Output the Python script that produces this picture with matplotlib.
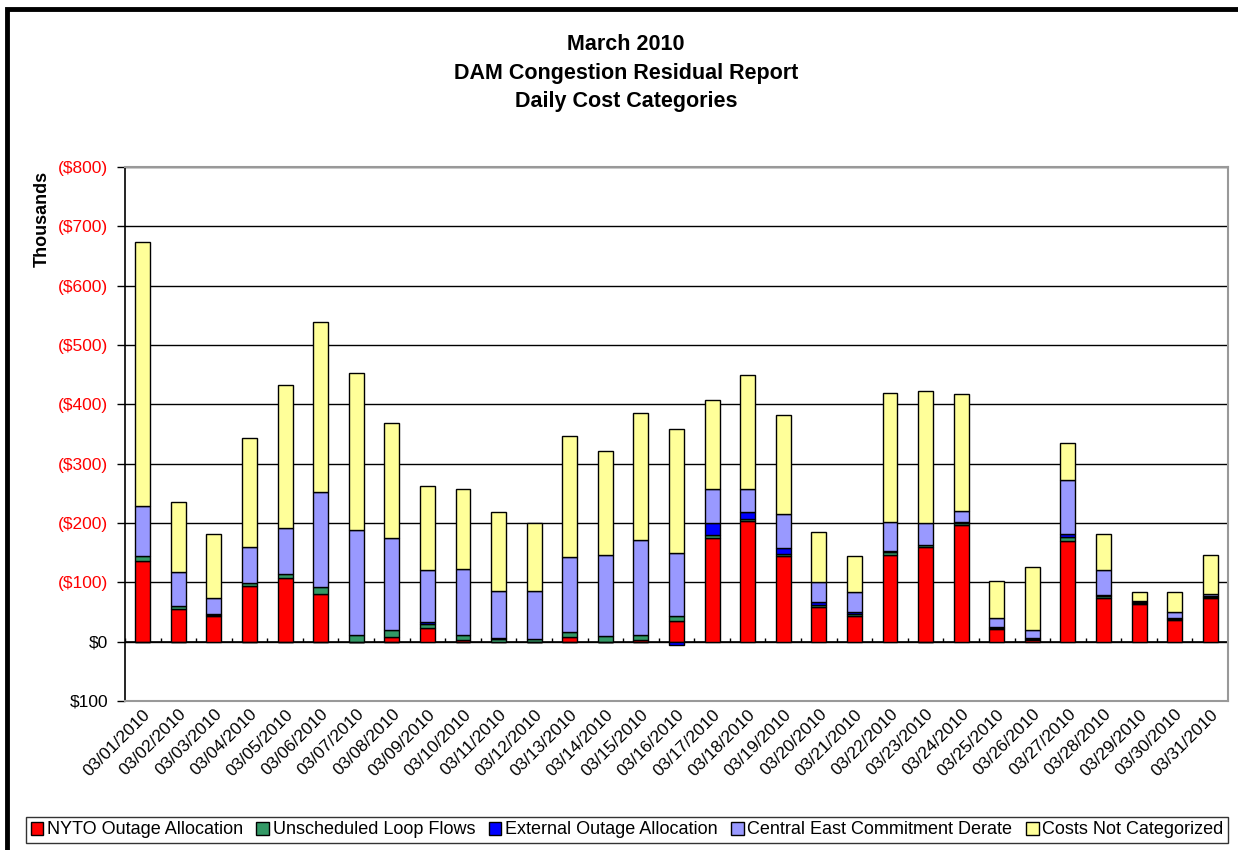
import matplotlib
matplotlib.use("Agg")
import matplotlib.pyplot as plt
from matplotlib.patches import Rectangle
import numpy as np

plt.rcParams['font.family'] = ['Liberation Sans', 'DejaVu Sans']

# Daily congestion residual costs, $ thousands (negative = cost)
dates = ["03/01/2010", "03/02/2010", "03/03/2010", "03/04/2010", "03/05/2010",
         "03/06/2010", "03/07/2010", "03/08/2010", "03/09/2010", "03/10/2010",
         "03/11/2010", "03/12/2010", "03/13/2010", "03/14/2010", "03/15/2010",
         "03/16/2010", "03/17/2010", "03/18/2010", "03/19/2010", "03/20/2010",
         "03/21/2010", "03/22/2010", "03/23/2010", "03/24/2010", "03/25/2010",
         "03/26/2010", "03/27/2010", "03/28/2010", "03/29/2010", "03/30/2010",
         "03/31/2010"]

nyto_outage = [-136, -55, -44, -94, -107, -81, 0, -8, -23, -3, 0, 0, -8, 0, -2, -35,
               -175, -204, -144, -58, -43, -146, -160, -197, -22, -3, -169, -74, -64, -37, -74]
loop_flows = [-8, -5, -1, -5, -7, -11, -11, -12, -6, -8, -5, -4, -9, -9, -9, -9,
              -4, -3, -4, -4, -3, -5, -3, -3, -1, -1, -7, -3, -2, -1, -2]
external_outage = [0, 0, -2, 0, 0, 0, 0, 0, -4, 0, -1, 0, 0, 0, 0, 5,
                   -21, -11, -10, -5, -4, -1, 0, -1, -2, -3, -6, -1, -1, -2, -1]
central_east = [-85, -58, -27, -60, -77, -160, -178, -154, -88, -112, -79, -81, -125, -137, -160, -106,
                -58, -40, -58, -34, -33, -50, -37, -20, -15, -12, -90, -43, -1, -10, -4]
not_categorized = [-445, -118, -108, -185, -241, -286, -264, -194, -142, -135, -133, -115, -205, -176, -214, -208,
                   -150, -192, -166, -83, -61, -217, -222, -196, -63, -107, -63, -61, -16, -33, -65]

series_names = ["NYTO Outage Allocation", "Unscheduled Loop Flows", "External Outage Allocation",
                "Central East Commitment Derate", "Costs Not Categorized"]
series_values = [nyto_outage, loop_flows, external_outage, central_east, not_categorized]
series_colors = ["#FF0000", "#339966", "#0000FF", "#9999FF", "#FFFF99"]

y_ticks = [-800, -700, -600, -500, -400, -300, -200, -100, 0, 100]

W, H = 1238, 850
fig = plt.figure(figsize=(W / 100, H / 100), dpi=100)
ax = fig.add_axes([125 / W, 1 - 701 / H, (1228 - 125) / W, (701 - 167) / H])

x = np.arange(len(dates))
neg_base = np.zeros(len(dates))
pos_base = np.zeros(len(dates))
handles = []
for name, vals, col in zip(series_names, series_values, series_colors):
    v = np.array(vals, dtype=float)
    bottom = np.where(v < 0, neg_base, pos_base)
    b = ax.bar(x, v, width=0.42, bottom=bottom, color=col, edgecolor="black",
               linewidth=1.0, label=name, zorder=3)
    handles.append(b)
    neg_base = neg_base + np.where(v < 0, v, 0)
    pos_base = pos_base + np.where(v > 0, v, 0)

ax.set_xlim(-0.5, len(dates) - 0.5)
ax.set_ylim(100, -800)

# value axis with accounting-style labels
labels = [f"(${-t})" if t < 0 else f"${t}" for t in y_ticks]
ax.set_yticks(y_ticks, labels=labels)
for lbl, t in zip(ax.get_yticklabels(), y_ticks):
    lbl.set_color("#FF0000" if t < 0 else "black")
ax.tick_params(axis="y", direction="out", length=6, width=1, pad=6, labelsize=12.5)
ax.yaxis.grid(True, color="black", linewidth=1.0, zorder=0)
ax.set_axisbelow(True)

# category labels along the bottom edge
ax.set_xticks(x)
ax.set_xticklabels(dates, rotation=45, ha="right", rotation_mode="anchor", fontsize=12.5)
ax.tick_params(axis="x", length=0, pad=4)

# zero line with category-boundary ticks
ax.axhline(0, color="black", linewidth=1.2, zorder=2)
ax.vlines(np.arange(len(dates) + 1) - 0.5, 0, -7, color="black", linewidth=1, zorder=2)

for side in ("top", "right", "bottom"):
    ax.spines[side].set_color("#999999")
    ax.spines[side].set_linewidth(1.5)
ax.spines["left"].set_color("black")
ax.spines["left"].set_linewidth(1.2)

ax.set_ylabel("Thousands", fontsize=13, fontweight="bold")
ax.yaxis.set_label_coords(-74 / (1228 - 125), 1 - (219 - 167) / (701 - 167))

# titles
for txt, yy in zip(["March 2010", "DAM Congestion Residual Report", "Daily Cost Categories"],
                   [45, 73, 101]):
    fig.text(626 / W, 1 - yy / H, txt, ha="center", va="center",
             fontsize=15.5, fontweight="bold")

leg = fig.legend(handles=handles, loc="center", bbox_to_anchor=(627 / W, 1 - 830 / H),
                 ncol=5, fontsize=13, frameon=True, fancybox=False, edgecolor="black",
                 handlelength=0.7, handleheight=0.7, handletextpad=0.2, columnspacing=0.75,
                 borderpad=0.25, borderaxespad=0)
leg.get_frame().set_linewidth(1.0)

# chart-area frame
fig.add_artist(Rectangle((7 / W, -0.05), 1.2, 1 - 8.5 / H + 0.05, transform=fig.transFigure,
                         fill=False, edgecolor="black", linewidth=3.5))

fig.savefig("out.png", dpi=100)
